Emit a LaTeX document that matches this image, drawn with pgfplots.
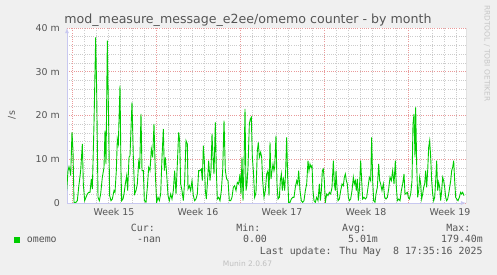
\documentclass[border=0pt]{standalone}
\usepackage{pgfplots}
\pgfplotsset{compat=1.18}
\usepackage{pgfplotstable}
\usepackage{fontspec}
\setmainfont{DejaVu Sans}
\newfontfamily\monofont{DejaVu Sans Mono}
\definecolor{bg}{HTML}{F0F0F0}
\definecolor{txt}{HTML}{555555}
\definecolor{munigreen}{HTML}{00CC00}
\definecolor{mgrid}{HTML}{E99A9A}
\definecolor{ngrid}{HTML}{CCCCCC}
\definecolor{axcol}{HTML}{C8C8F0}

\pgfplotstableread{
d v
-0.444 2.82
-0.333 7.39
-0.25 8.30
-0.167 7.39
-0.111 6.25
0.0 16.2
0.083 11.96
0.167 0.15
0.333 0.15
0.444 0.53
0.556 3.58
0.722 7.39
0.861 13.49
0.944 4.34
1.056 0.53
1.167 1.30
1.278 2.06
1.389 2.44
1.5 2.44
1.611 5.49
1.694 3.20
1.833 18.06
1.972 37.87
2.056 25.68
2.167 1.30
2.278 0.53
2.389 2.06
2.528 5.87
2.667 8.15
2.75 16.53
2.833 8.91
2.944 37.10
3.056 18.06
3.139 1.68
3.25 0.53
3.361 0.91
3.5 2.82
3.583 2.44
3.694 7.39
3.778 14.63
3.861 13.49
4.0 26.82
4.083 7.39
4.139 0.53
4.25 0.91
4.333 2.06
4.444 4.34
4.556 6.25
4.639 2.82
4.75 10.44
4.833 10.82
5.0 23.01
5.111 10.44
5.222 2.06
5.333 2.82
5.444 4.34
5.556 9.30
5.639 7.77
5.75 20.34
5.833 7.39
5.944 7.39
6.028 0.53
6.167 0.15
6.278 3.58
6.389 8.15
6.5 7.39
6.611 12.34
6.722 10.44
6.833 18.06
6.944 6.63
7.056 0.15
7.167 1.30
7.278 0.53
7.389 2.06
7.5 10.44
7.611 16.91
7.694 7.39
7.778 10.44
7.889 6.63
8.0 1.68
8.111 0.53
8.222 2.06
8.333 0.91
8.444 2.82
8.556 7.39
8.667 2.06
8.778 8.91
8.889 16.15
8.972 14.25
9.056 4.34
9.167 2.82
9.278 0.53
9.389 5.10
9.5 14.25
9.611 13.49
9.667 3.20
9.778 3.96
9.889 2.82
10.0 5.10
10.111 1.68
10.222 0.53
10.333 0.91
10.444 2.06
10.556 7.39
10.667 7.39
10.778 7.77
10.861 5.10
10.944 13.10
11.028 9.68
11.111 2.82
11.194 0.91
11.278 4.34
11.389 9.68
11.5 5.10
11.583 7.39
11.667 15.77
11.75 10.44
11.833 6.63
11.944 18.44
12.028 7.39
12.111 0.91
12.222 1.30
12.333 0.53
12.444 2.82
12.556 7.39
12.667 18.82
12.778 7.39
12.889 5.49
13.0 5.10
13.111 0.53
13.222 0.53
13.333 1.30
13.444 3.58
13.556 3.96
13.667 2.82
13.778 4.72
13.889 4.34
14.0 6.63
14.083 2.06
14.167 10.44
14.25 0.53
14.333 8.15
14.417 21.49
14.5 2.82
14.583 4.34
14.667 8.15
14.778 18.06
14.861 19.20
14.944 19.58
15.028 10.44
15.111 7.39
15.222 1.30
15.333 2.44
15.444 11.96
15.528 13.87
15.611 10.44
15.722 11.58
15.806 10.44
15.889 5.10
16.0 1.30
16.111 2.82
16.222 6.63
16.333 7.39
16.417 1.68
16.5 13.87
16.583 5.49
16.667 7.39
16.75 8.91
16.833 7.39
16.889 8.15
17.0 15.39
17.083 4.34
17.167 0.91
17.278 1.30
17.361 5.10
17.444 6.63
17.528 2.82
17.611 5.87
17.722 2.82
17.806 7.39
17.889 15.01
17.972 5.87
18.056 0.15
18.167 0.15
18.278 0.91
18.389 1.30
18.5 1.30
18.611 3.58
18.722 5.10
18.806 4.34
18.889 7.39
19.0 2.82
19.111 0.53
19.222 0.15
19.333 0.53
19.444 2.82
19.556 4.34
19.667 9.68
19.75 7.39
19.833 8.91
19.917 8.15
20.0 8.53
20.083 2.82
20.167 0.53
20.278 0.15
20.389 1.30
20.5 0.53
20.611 4.34
20.694 0.53
20.778 2.82
20.861 7.39
20.944 7.77
21.028 5.10
21.111 0.15
21.222 2.06
21.333 1.68
21.444 2.44
21.556 2.06
21.667 3.58
21.778 9.68
21.861 4.34
21.944 2.82
22.0 7.39
22.083 3.58
22.167 0.53
22.278 0.91
22.389 2.82
22.5 4.34
22.611 3.96
22.694 5.87
22.778 6.63
22.861 5.10
22.944 4.34
23.028 1.30
23.111 0.53
23.222 0.91
23.333 2.82
23.444 5.87
23.528 4.34
23.611 5.10
23.694 2.82
23.778 5.49
23.861 0.53
23.944 2.82
24.056 9.68
24.139 5.10
24.222 0.91
24.333 1.30
24.444 0.91
24.556 1.30
24.667 3.58
24.778 5.87
24.889 5.10
24.972 15.01
25.056 5.10
25.139 0.53
25.25 0.15
25.333 2.06
25.444 3.58
25.556 8.91
25.639 5.10
25.722 4.34
25.833 2.82
25.944 4.34
26.056 1.30
26.167 0.91
26.278 1.30
26.389 3.20
26.5 5.87
26.611 5.10
26.722 7.39
26.833 4.34
26.944 9.68
27.028 3.58
27.111 0.53
27.222 0.91
27.333 0.53
27.444 2.82
27.556 4.34
27.667 6.63
27.75 2.00
27.944 2.44
28.028 1.30
28.111 0.91
28.222 2.06
28.333 5.10
28.417 18.06
28.5 20.34
28.583 10.44
28.639 21.87
28.722 8.91
28.806 1.30
28.889 2.82
28.972 5.87
29.056 4.34
29.139 0.91
29.222 2.06
29.306 3.58
29.389 4.34
29.472 7.39
29.556 3.58
29.639 7.39
29.722 12.72
29.806 14.25
29.889 10.44
29.972 5.10
30.056 2.06
30.139 0.53
30.222 1.30
30.306 5.10
30.389 9.68
30.472 2.82
30.556 4.72
30.639 3.58
30.722 0.53
30.806 2.82
30.889 5.87
30.972 5.10
31.056 3.58
31.139 1.30
31.222 0.53
31.306 0.91
31.389 2.06
31.472 3.58
31.556 5.10
31.639 7.39
31.722 8.15
31.806 9.68
31.889 5.10
31.972 1.30
32.056 0.91
32.167 0.53
32.278 1.30
32.389 2.44
32.472 2.06
32.556 2.44
32.667 1.68
}\omemodata

\begin{document}
\begin{tikzpicture}
\fill[bg] (0pt,0pt) rectangle (497pt,275pt);
\begin{axis}[
  at={(67pt,72pt)}, anchor=south west, scale only axis,
  width=399pt, height=175pt,
  xmin=-0.4167, xmax=32.833, ymin=0, ymax=40,
  axis background/.style={fill=white},
  axis x line*=bottom, axis y line*=left,
  axis line style={axcol, line width=0.8pt, -latex},
  xtick={0,7,14,21,28}, xticklabels={},
  minor xtick={1,2,3,4,5,6,8,9,10,11,12,13,15,16,17,18,19,20,22,23,24,25,26,27,29,30,31,32},
  extra x ticks={3.5,10.5,17.5,24.5,31.5},
  extra x tick labels={Week 15,Week 16,Week 17,Week 18,Week 19},
  extra x tick style={grid=none, major tick length=0pt},
  ytick={0,10,20,30,40}, yticklabels={0,10 m,20 m,30 m,40 m},
  minor ytick={2,4,6,8,12,14,16,18,22,24,26,28,32,34,36,38},
  grid=both,
  major grid style={mgrid, line width=0.55pt, dash pattern=on 1pt off 1.2pt},
  minor grid style={ngrid, line width=0.55pt, dash pattern=on 1pt off 1.2pt},
  major tick length=0pt, minor tick length=0pt,
  tick label style={font=\fontsize{9.4}{10}\selectfont, text=txt},
  yticklabel style={inner sep=0pt, xshift=-7pt},
  xticklabel style={inner sep=0pt, yshift=-5.5pt},
]
\addplot[munigreen, line width=0.9pt, no markers] table[x=d, y=v] {\omemodata};
\draw[gray, line width=0.8pt] (rel axis cs:1,0) -- (rel axis cs:1,1);
\end{axis}
\node[anchor=base, text=txt, font=\fontsize{12.6}{14}\selectfont, inner sep=0pt] at (248pt,251pt) {mod\_measure\_message\_e2ee/omemo counter - by month};
\node[rotate=90, text=txt, font=\fontsize{9.4}{10}\selectfont, inner sep=0pt] at (12pt,160pt) {/s};
\node[rotate=-90, text=black!22, font=\fontsize{7.5}{8}\selectfont, inner sep=0pt] at (487pt,221.5pt) {RRDTOOL / TOBI OETIKER};
\fill[munigreen] (14pt,32.3pt) rectangle (20pt,38.3pt);
\begin{scope}[every node/.style={font=\monofont\fontsize{9.9}{11}\selectfont, text=txt, inner sep=0pt}]
\node[anchor=base west] at (26.7pt,32.3pt) {omemo};
\node[anchor=base] at (142.9pt,43.7pt) {Cur:};
\node[anchor=base] at (248.3pt,43.7pt) {Min:};
\node[anchor=base] at (354pt,43.7pt) {Avg:};
\node[anchor=base] at (458.3pt,43.7pt) {Max:};
\node[anchor=base] at (149pt,32.3pt) {-nan};
\node[anchor=base] at (255pt,32.3pt) {0.00};
\node[anchor=base] at (363pt,32.3pt) {5.01m};
\node[anchor=base] at (462pt,32.3pt) {179.40m};
\node[anchor=base east] at (482.7pt,20.3pt) {Last update: Thu May\ \ 8 17:35:16 2025};
\end{scope}
\node[anchor=base, text=black!25, font=\fontsize{7.5}{8}\selectfont, inner sep=0pt] at (247.5pt,8.3pt) {Munin 2.0.67};
\end{tikzpicture}
\end{document}
